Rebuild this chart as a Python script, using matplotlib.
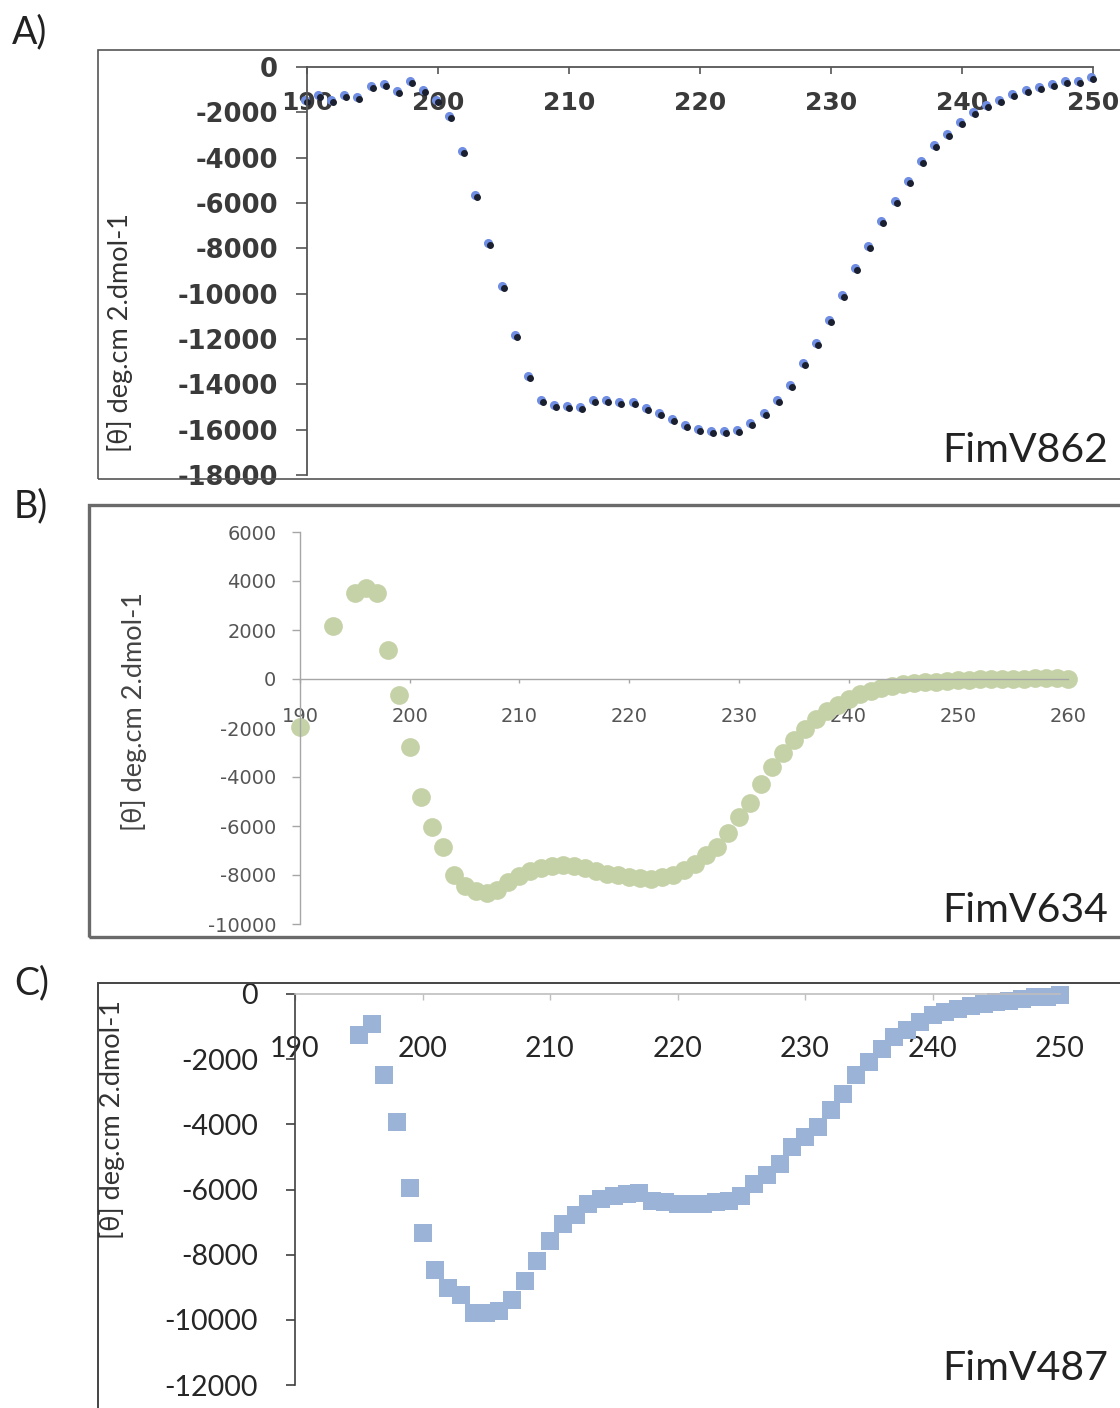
import matplotlib
matplotlib.use('Agg')
import matplotlib.pyplot as plt
from matplotlib.patches import Rectangle
from matplotlib.transforms import ScaledTranslation

plt.rcParams['axes.unicode_minus'] = False

wl_a = list(range(190, 251))
theta_a = [-1550, -1330, -1550, -1330, -1410, -930, -840, -1150, -710, -1100,
           -1550, -2250, -3780, -5740, -7860, -9760, -11920, -13700, -14790, -15010,
           -15060, -15100, -14790, -14790, -14880, -14880, -15140, -15360, -15630, -15890,
           -16070, -16160, -16160, -16110, -15800, -15360, -14790, -14130, -13160, -12270,
           -11260, -10150, -8960, -7990, -6890, -6000, -5120, -4240, -3530, -3050,
           -2520, -2070, -1770, -1550, -1280, -1100, -970, -840, -710, -710, -530]

wl_b = [190, 193, 195, 196, 197, 198, 199, 200, 201, 202, 203, 204] + list(range(205, 261))
theta_b = [-1960, 2160, 3510, 3720, 3510, 1180, -650, -2780, -4800, -6040, -6860, -8000,
           -8450, -8650, -8750, -8600, -8300, -8050, -7850, -7700, -7620, -7590,
           -7640, -7720, -7820, -7940, -8020, -8070, -8130, -8150, -8100, -7980,
           -7800, -7550, -7200, -6860, -6300, -5650, -5060, -4300, -3600, -3000,
           -2490, -2050, -1650, -1300, -1050, -800, -620, -500, -380, -300,
           -220, -170, -130, -110, -80, -60, -40, -20, 0, 0,
           10, 20, 30, 30, 30, 20]

wl_c = list(range(195, 251))
theta_c = [-1260, -920, -2490, -3940, -5940, -7320, -8460, -9020, -9230, -9780,
           -9800, -9720, -9380, -8800, -8180, -7570, -7070, -6770, -6460, -6300,
           -6190, -6150, -6120, -6340, -6380, -6460, -6460, -6460, -6380, -6340,
           -6190, -5840, -5540, -5230, -4710, -4400, -4090, -3570, -3070, -2490,
           -2090, -1690, -1320, -1110, -860, -650, -560, -450, -380, -300,
           -260, -200, -140, -100, -80, -40]

ylab = '[θ] deg.cm 2.dmol-1'
sans = ['Lato', 'DejaVu Sans']

W, H = 1120, 1408
fig = plt.figure(figsize=(W / 100, H / 100), dpi=100)


def caja(l, t, r, b):
    return [l / W, 1 - b / H, (r - l) / W, (b - t) / H]


def marco(l, t, r, b, lw, col):
    fig.add_artist(Rectangle((l / W, 1 - b / H), (r - l) / W, (b - t) / H,
                             transform=fig.transFigure, fill=False, lw=lw, ec=col))


def ejes(ax, col_y, col_x, lw):
    ax.spines['top'].set_visible(False)
    ax.spines['right'].set_visible(False)
    ax.spines['bottom'].set_position(('data', 0))
    ax.spines['left'].set_color(col_y)
    ax.spines['bottom'].set_color(col_x)
    ax.spines['left'].set_linewidth(lw)
    ax.spines['bottom'].set_linewidth(lw)
    ax.patch.set_alpha(0)


# ---------------- A) FimV862 ----------------
marco(98, 50, 1135, 479, 1.2, '#555555')
ax = fig.add_axes(caja(307, 67, 1093, 475))
ax.plot(wl_a, theta_a, ls='none', marker='o', ms=5.5, color='#6f8de2', clip_on=False,
        transform=ax.transData + ScaledTranslation(-0.02, 0.02, fig.dpi_scale_trans))
ax.plot(wl_a, theta_a, ls='none', marker='o', ms=4, color='#1b2030', clip_on=False)
ax.set_xlim(190, 250)
ax.set_ylim(-18000, 0)
ax.set_xticks(range(190, 251, 10))
ax.set_yticks(range(-18000, 1, 2000))
ejes(ax, '#555555', '#555555', 1.3)
ax.tick_params(axis='x', direction='out', length=5, width=1.2, color='#555555',
               pad=12, labelsize=18, labelcolor='#3a3a3a')
ax.tick_params(axis='y', direction='out', length=8, width=1.2, color='#555555',
               pad=13, labelsize=18.5, labelcolor='#3a3a3a')
for t in ax.get_xticklabels() + ax.get_yticklabels():
    t.set_fontweight('bold')
fig.text(120 / W, 1 - 333 / H, ylab, rotation=90, ha='center', va='center',
         fontsize=19.5, color='#333333', family=sans)
fig.text(1108 / W, 1 - 450 / H, 'FimV862', ha='right', va='center',
         fontsize=29.5, color='#222222', family=sans)
fig.text(12 / W, 1 - 32 / H, 'A)', ha='left', va='center', fontsize=27,
         color='#222222', family=sans)

# ---------------- B) FimV634 ----------------
marco(89, 505, 1135, 937, 2.4, '#6a6a6a')
ax = fig.add_axes(caja(300, 532, 1068, 924))
ax.plot(wl_b, theta_b, ls='none', marker='o', ms=13.5, color='#c5d2a7',
        markeredgewidth=0, clip_on=False)
ax.set_xlim(190, 260)
ax.set_ylim(-10000, 6000)
ax.set_xticks(range(190, 261, 10))
ax.set_yticks(range(-10000, 6001, 2000))
ejes(ax, '#a6a6a6', '#a6a6a6', 1.0)
ax.tick_params(axis='x', direction='out', length=3, width=1, color='#a6a6a6',
               pad=17, labelsize=14, labelcolor='#555555')
ax.tick_params(axis='y', direction='out', length=6, width=1, color='#a6a6a6',
               pad=11, labelsize=14, labelcolor='#555555')
fig.text(134 / W, 1 - 712 / H, ylab, rotation=90, ha='center', va='center',
         fontsize=19.5, color='#444444', family=sans)
fig.text(1108 / W, 1 - 910 / H, 'FimV634', ha='right', va='center',
         fontsize=29.5, color='#222222', family=sans)
fig.text(14 / W, 1 - 506 / H, 'B)', ha='left', va='center', fontsize=27,
         color='#222222', family=sans)

# ---------------- C) FimV487 ----------------
marco(98, 983, 1135, 1420, 1.4, '#444444')
ax = fig.add_axes(caja(295, 994, 1060, 1385))
ax.plot(wl_c, theta_c, ls='none', marker='s', ms=12.5, color='#9ab3d6',
        markeredgewidth=0, clip_on=False)
ax.set_xlim(190, 250)
ax.set_ylim(-12000, 0)
ax.set_xticks(range(190, 251, 10))
ax.set_yticks(range(-12000, 1, 2000))
ejes(ax, '#404040', '#bfbfbf', 1.2)
ax.tick_params(axis='x', direction='out', length=4, width=1, color='#bfbfbf',
               pad=26, labelsize=20.5, labelcolor='#262626')
ax.tick_params(axis='y', direction='out', length=6.5, width=1.2, color='#404040',
               pad=20, labelsize=20.5, labelcolor='#262626')
for t in ax.get_xticklabels() + ax.get_yticklabels():
    t.set_family(sans)
fig.text(112 / W, 1 - 1120 / H, ylab, rotation=90, ha='center', va='center',
         fontsize=19.5, color='#333333', family=sans)
fig.text(1108 / W, 1 - 1368 / H, 'FimV487', ha='right', va='center',
         fontsize=29.5, color='#222222', family=sans)
fig.text(14 / W, 1 - 983 / H, 'C)', ha='left', va='center', fontsize=27,
         color='#222222', family=sans)

fig.savefig('out.png', dpi=100)
